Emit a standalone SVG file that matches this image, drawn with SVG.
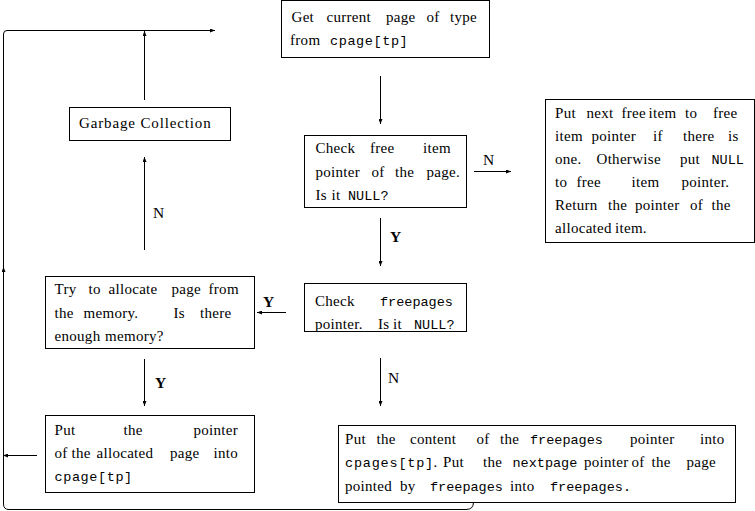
<svg xmlns="http://www.w3.org/2000/svg" width="755" height="511" viewBox="0 0 755 511">
<defs>
<marker id="ah" markerUnits="userSpaceOnUse" markerWidth="6" markerHeight="4" refX="5" refY="2" orient="auto">
<path d="M0,0 L5,2 L0,4 z" fill="#000"/>
</marker>
<style>
.box{fill:#fff;stroke:#000;stroke-width:1}
.t{font-family:"Liberation Serif","Times New Roman",serif;font-size:15px;letter-spacing:0.3px;fill:#000}
.m{font-family:"Liberation Mono","Courier New",monospace;font-size:13.5px;letter-spacing:0}
.lbl{font-family:"Liberation Serif","Times New Roman",serif;font-size:15.5px;fill:#000}
.b{font-weight:bold}
.c{fill:none;stroke:#000;stroke-width:1}
.a{marker-end:url(#ah)}
</style>
</defs>
<rect width="755" height="511" fill="#fff"/>
<g id="connectors">
<line class="c a" x1="380.5" y1="76" x2="380.5" y2="124"/>
<line class="c a" x1="474" y1="171.5" x2="511" y2="171.5"/>
<line class="c a" x1="380.5" y1="218" x2="380.5" y2="266"/>
<line class="c a" x1="286" y1="312.5" x2="257" y2="312.5"/>
<line class="c a" x1="144.5" y1="359" x2="144.5" y2="406"/>
<line class="c a" x1="144.5" y1="250" x2="144.5" y2="157"/>
<line class="c a" x1="144.5" y1="100" x2="144.5" y2="31"/>
<line class="c a" x1="380.5" y1="358" x2="380.5" y2="406"/>
<line class="c a" x1="37" y1="455.5" x2="3" y2="455.5"/>
<path class="c a" d="M473.5,502 Q473.5,509.5 466,509.5 L9,509.5 Q3.5,509.5 3.5,504 L3.5,267"/>
<path class="c a" d="M3.5,267 L3.5,34 Q3.5,30.5 7,30.5 L215,30.5"/>
<text class="lbl" x="483" y="165">N</text>
<text class="lbl b" x="390" y="242">Y</text>
<text class="lbl b" x="263" y="307">Y</text>
<text class="lbl b" x="155" y="388">Y</text>
<text class="lbl" x="153" y="218">N</text>
<text class="lbl" x="388" y="383">N</text>
</g>
<g id="get-current-page">
<rect class="box" x="281.5" y="0.5" width="208" height="57"/>
<text class="t" y="22"><tspan x="291.5">Get</tspan><tspan x="326.5">current</tspan><tspan x="386">page</tspan><tspan x="426.5">of</tspan><tspan x="450">type</tspan></text>
<text class="t" y="44.5"><tspan x="290">from</tspan><tspan x="330" class="m" style="letter-spacing:0.6px">cpage[tp]</tspan></text>
</g>
<g id="garbage-collection">
<rect class="box" x="69.5" y="107.5" width="161" height="33"/>
<text class="t" x="79" y="128" textLength="132" lengthAdjust="spacing">Garbage Collection</text>
</g>
<g id="check-free-item">
<rect class="box" x="304.5" y="135.5" width="162" height="72"/>
<text class="t" y="153"><tspan x="315.5">Check</tspan><tspan x="370">free</tspan><tspan x="423">item</tspan></text>
<text class="t" y="176.5"><tspan x="315.5">pointer</tspan><tspan x="371.5">of</tspan><tspan x="395">the</tspan><tspan x="426.5">page.</tspan></text>
<text class="t" y="200"><tspan x="315.5">Is</tspan><tspan x="331.5">it</tspan><tspan x="348" class="m">NULL?</tspan></text>
</g>
<g id="put-next-free-item">
<rect class="box" x="545.5" y="99.5" width="209" height="143"/>
<text class="t" y="118"><tspan x="555">Put</tspan><tspan x="586.5">next</tspan><tspan x="621.5">free</tspan><tspan x="648.5">item</tspan><tspan x="685">to</tspan><tspan x="713">free</tspan></text>
<text class="t" y="141"><tspan x="555">item</tspan><tspan x="591.5">pointer</tspan><tspan x="653">if</tspan><tspan x="683">there</tspan><tspan x="728">is</tspan></text>
<text class="t" y="164"><tspan x="555">one.</tspan><tspan x="596.5">Otherwise</tspan><tspan x="680">put</tspan><tspan x="711.5" class="m">NULL</tspan></text>
<text class="t" y="187"><tspan x="555">to</tspan><tspan x="576.5">free</tspan><tspan x="631.5">item</tspan><tspan x="681.5">pointer.</tspan></text>
<text class="t" y="210"><tspan x="555">Return</tspan><tspan x="608">the</tspan><tspan x="635">pointer</tspan><tspan x="690">of</tspan><tspan x="711.5">the</tspan></text>
<text class="t" y="233"><tspan x="555">allocated</tspan><tspan x="615">item.</tspan></text>
</g>
<g id="check-freepages">
<rect class="box" x="304.5" y="283.5" width="162" height="48"/>
<text class="t" y="305.5"><tspan x="315">Check</tspan><tspan x="380" class="m">freepages</tspan></text>
<text class="t" y="328.5"><tspan x="315">pointer.</tspan><tspan x="378">Is</tspan><tspan x="393">it</tspan><tspan x="414" class="m">NULL?</tspan></text>
</g>
<g id="try-allocate">
<rect class="box" x="45.5" y="276.5" width="209" height="72"/>
<text class="t" y="293.5"><tspan x="54.5">Try</tspan><tspan x="88.5">to</tspan><tspan x="108.5">allocate</tspan><tspan x="171.5">page</tspan><tspan x="208.5">from</tspan></text>
<text class="t" y="317.5"><tspan x="54.5">the</tspan><tspan x="83.5">memory.</tspan><tspan x="173.5">Is</tspan><tspan x="200">there</tspan></text>
<text class="t" y="341"><tspan x="54.5">enough</tspan><tspan x="105">memory?</tspan></text>
</g>
<g id="put-pointer">
<rect class="box" x="45.5" y="415.5" width="209" height="77"/>
<text class="t" y="434.5"><tspan x="54.5">Put</tspan><tspan x="123.5">the</tspan><tspan x="193.5">pointer</tspan></text>
<text class="t" y="458"><tspan x="54.5">of</tspan><tspan x="71.5">the</tspan><tspan x="96.5">allocated</tspan><tspan x="170">page</tspan><tspan x="213.5">into</tspan></text>
<text class="t" y="481"><tspan x="54.5" class="m" style="letter-spacing:0.6px">cpage[tp]</tspan></text>
</g>
<g id="put-content">
<rect class="box" x="338.5" y="425.5" width="397" height="77"/>
<text class="t" y="443.5"><tspan x="345">Put</tspan><tspan x="376.5">the</tspan><tspan x="410">content</tspan><tspan x="476.5">of</tspan><tspan x="500">the</tspan><tspan x="530" class="m">freepages</tspan><tspan x="630">pointer</tspan><tspan x="700">into</tspan></text>
<text class="t" y="467"><tspan x="345" class="m" style="letter-spacing:0.8px">cpages[tp]</tspan><tspan x="433.5">.</tspan><tspan x="443">Put</tspan><tspan x="483">the</tspan><tspan x="512.5" class="m">nextpage</tspan><tspan x="584">pointer</tspan><tspan x="631.5">of</tspan><tspan x="651.5">the</tspan><tspan x="686.5">page</tspan></text>
<text class="t" y="490.5"><tspan x="345">pointed</tspan><tspan x="400">by</tspan><tspan x="430" class="m">freepages</tspan><tspan x="510">into</tspan><tspan x="550" class="m">freepages.</tspan></text>
</g>
</svg>
